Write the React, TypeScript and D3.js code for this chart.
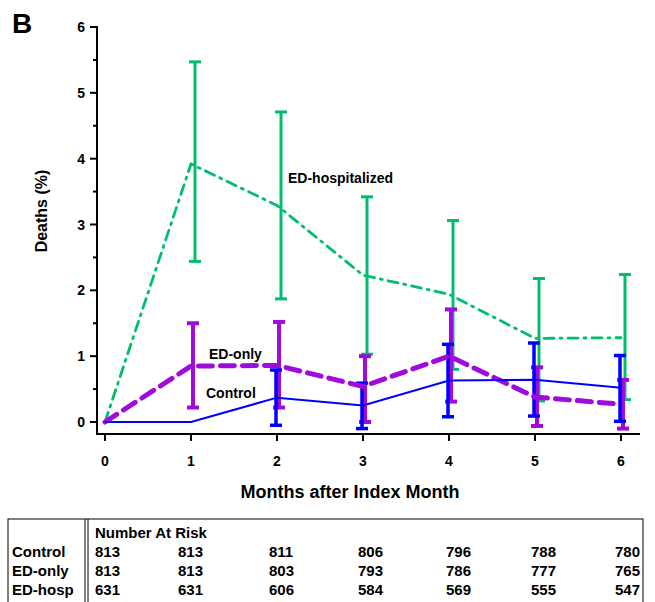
import React from 'react';
import * as d3 from 'd3';

// months after index month
const months = [0, 1, 2, 3, 4, 5, 6];

// deaths (%) per group, with error bars
const control = [0, 0, 0.37, 0.25, 0.63, 0.64, 0.52];
const controlLo = [null, null, -0.05, -0.1, 0.08, 0.09, 0.01];
const controlHi = [null, null, 0.79, 0.59, 1.18, 1.2, 1.01];

const edOnly = [0, 0.85, 0.86, 0.54, 1.0, 0.38, 0.27];
const edOnlyLo = [null, 0.22, 0.22, 0.0, 0.31, -0.06, -0.1];
const edOnlyHi = [null, 1.5, 1.52, 1.0, 1.71, 0.83, 0.64];

const edHosp = [0, 3.92, 3.29, 2.23, 1.94, 1.27, 1.28];
const edHospLo = [null, 2.44, 1.87, 1.03, 0.8, 0.32, 0.34];
const edHospHi = [null, 5.47, 4.71, 3.42, 3.06, 2.18, 2.24];

const yTicks = [0, 1, 2, 3, 4, 5, 6];
const yMinor = [0.5, 1.5, 2.5, 3.5, 4.5, 5.5];

// number at risk table
const riskGroups = ['Control', 'ED-only', 'ED-hosp'];
const riskControl = [813, 813, 811, 806, 796, 788, 780];
const riskEdOnly = [813, 813, 803, 793, 786, 777, 765];
const riskEdHosp = [631, 631, 606, 584, 569, 555, 547];

const W = 655;
const H = 602;

const x = d3.scaleLinear().domain([0, 6]).range([105, 621]);
const y = d3.scaleLinear().domain([0, 6]).range([422, 27]);

const font = 'Arial, "Liberation Sans", Helvetica, sans-serif';

const GREEN = '#00BE6E';
const PURPLE = '#A00ADC';
const BLUE = '#0000FF';

type Series = {
  vals: number[];
  lo: (number | null)[];
  hi: (number | null)[];
  color: string;
  width: number;
  dash: string;
  barWidth: number;
  off: number;
};

const series: Series[] = [
  { vals: edHosp, lo: edHospLo, hi: edHospHi, color: GREEN, width: 2.8, dash: '10 6 2 6', barWidth: 3, off: 4 },
  { vals: edOnly, lo: edOnlyLo, hi: edOnlyHi, color: PURPLE, width: 5, dash: '14 8', barWidth: 4, off: 2 },
  { vals: control, lo: controlLo, hi: controlHi, color: BLUE, width: 2, dash: '', barWidth: 3.5, off: -1 },
];

const line = d3
  .line<number>()
  .x((d, i) => x(months[i]))
  .y((d) => y(d));

const App = () => {
  const riskRows = [riskControl, riskEdOnly, riskEdHosp];
  const riskX = [95, 178, 269, 358, 446, 531, 615];
  return (
    <svg width={W} height={H} style={{ position: 'absolute', left: 0, top: 0, background: '#fff' }}>
      <text x={12} y={33} fontFamily={font} fontWeight="bold" fontSize={28}>B</text>

      {/* error bars */}
      {series.map((s, si) => (
        <g key={'eb' + si} stroke={s.color} strokeWidth={s.barWidth}>
          {months.map((m, i) => {
            const lo = s.lo[i];
            const hi = s.hi[i];
            if (lo === null || hi === null) return null;
            const cx = x(m) + s.off;
            return (
              <g key={i}>
                <line x1={cx} x2={cx} y1={y(lo)} y2={y(hi)} />
                <line x1={cx - 6} x2={cx + 6} y1={y(lo)} y2={y(lo)} />
                <line x1={cx - 6} x2={cx + 6} y1={y(hi)} y2={y(hi)} />
              </g>
            );
          })}
        </g>
      ))}

      {/* lines */}
      {series.map((s, si) => (
        <path
          key={'ln' + si}
          d={line(s.vals) || ''}
          fill="none"
          stroke={s.color}
          strokeWidth={s.width}
          strokeDasharray={s.dash || undefined}
          strokeLinecap={s.dash ? 'round' : 'butt'}
        />
      ))}

      {/* y axis */}
      <line x1={97} x2={97} y1={y(6) - 1} y2={434} stroke="#000" strokeWidth={2} />
      {yTicks.map((t) => (
        <g key={'yt' + t}>
          <line x1={90} x2={97} y1={y(t)} y2={y(t)} stroke="#000" strokeWidth={2} />
          <text x={85} y={y(t) + 5} textAnchor="end" fontFamily={font} fontWeight="bold" fontSize={14}>{t}</text>
        </g>
      ))}
      {yMinor.map((t) => (
        <line key={'ym' + t} x1={93} x2={97} y1={y(t)} y2={y(t)} stroke="#000" strokeWidth={2} />
      ))}
      <text
        transform={`translate(47,211) rotate(-90)`}
        textAnchor="middle"
        fontFamily={font}
        fontWeight="bold"
        fontSize={16}
      >
        Deaths (%)
      </text>

      {/* x axis */}
      <line x1={96} x2={640} y1={434} y2={434} stroke="#000" strokeWidth={2} />
      {months.map((m) => (
        <g key={'xt' + m}>
          <line x1={x(m)} x2={x(m)} y1={434} y2={441} stroke="#000" strokeWidth={2} />
          <text x={x(m)} y={466} textAnchor="middle" fontFamily={font} fontWeight="bold" fontSize={14}>{m}</text>
        </g>
      ))}
      <text x={350} y={498} textAnchor="middle" fontFamily={font} fontWeight="bold" fontSize={18}>
        Months after Index Month
      </text>

      {/* series labels */}
      <text x={288} y={183} fontFamily={font} fontWeight="bold" fontSize={14}>ED-hospitalized</text>
      <text x={209} y={359} fontFamily={font} fontWeight="bold" fontSize={14}>ED-only</text>
      <text x={206} y={398} fontFamily={font} fontWeight="bold" fontSize={14}>Control</text>

      {/* at risk table */}
      <rect x={8} y={519} width={635} height={84} fill="none" stroke="#000" strokeWidth={1} />
      <line x1={85} x2={85} y1={519} y2={603} stroke="#000" strokeWidth={1} />
      <line x1={88} x2={88} y1={519} y2={603} stroke="#000" strokeWidth={1} />
      <text x={95} y={538} fontFamily={font} fontWeight="bold" fontSize={15}>Number At Risk</text>
      {riskGroups.map((g, r) => (
        <g key={g}>
          <text x={12} y={557 + r * 19} fontFamily={font} fontWeight="bold" fontSize={15}>{g}</text>
          {riskRows[r].map((v, i) => (
            <text key={i} x={riskX[i]} y={557 + r * 19} fontFamily={font} fontWeight="bold" fontSize={15}>{v}</text>
          ))}
        </g>
      ))}
    </svg>
  );
};

export default App;
